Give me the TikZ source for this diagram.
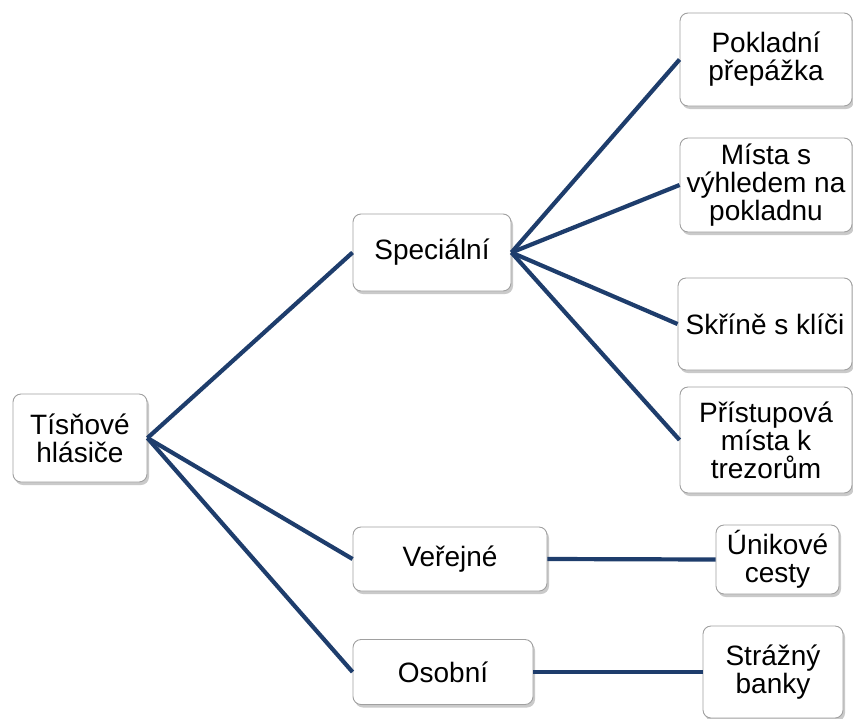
\documentclass[tikz,border=0pt]{standalone}
\usepackage{fontspec}
\setmainfont{Liberation Sans}
\usetikzlibrary{shadows}
\definecolor{navy}{HTML}{1E3D6C}
\definecolor{boxline}{HTML}{A0A0A0}
\tikzset{
  box/.style={draw=boxline, line width=0.9pt, fill=white, rounded corners=8pt,
    align=center, inner sep=0pt, font=\fontsize{28}{28}\selectfont,
    drop shadow={shadow xshift=2pt, shadow yshift=-3pt, opacity=0.35, fill=black!60}},
  link/.style={draw=navy, line width=4.2pt}
}
\begin{document}
\begin{tikzpicture}[x=1pt,y=-1pt]
\useasboundingbox (0,0) rectangle (853,718);
\node[box, minimum width=134pt, minimum height=88pt] (root) at (80,438) {Tísňové\\hlásiče};
\node[box, minimum width=158pt, minimum height=77pt] (spec) at (432,252.5) {Speciální};
\node[box, minimum width=194pt, minimum height=64pt] (ver) at (450,559) {Veřejné};
\node[box, minimum width=180pt, minimum height=65pt] (oso) at (443,672) {Osobní};
\node[box, minimum width=172pt, minimum height=93pt] (pok) at (766,59.5) {Pokladní\\přepážka};
\node[box, minimum width=172pt, minimum height=94pt] (mis) at (766,185) {Místa s\\výhledem na\\pokladnu};
\node[box, minimum width=174pt, minimum height=92pt] (skr) at (765,324) {Skříně s klíči};
\node[box, minimum width=172pt, minimum height=106pt] (pri) at (766,440) {Přístupová\\místa k\\trezorům};
\node[box, minimum width=123pt, minimum height=69pt] (uni) at (777.5,559.5) {Únikové\\cesty};
\node[box, minimum width=140pt, minimum height=92pt] (str) at (773,672) {Strážný\\banky};
\path[link] (root.east) -- (spec.west);
\path[link] (root.east) -- (ver.west);
\path[link] (root.east) -- (oso.west);
\path[link] (spec.east) -- (pok.west);
\path[link] (spec.east) -- (mis.west);
\path[link] (spec.east) -- (skr.west);
\path[link] (spec.east) -- (pri.west);
\path[link] (ver.east) -- (uni.west);
\path[link] (oso.east) -- (str.west);
\end{tikzpicture}
\end{document}
